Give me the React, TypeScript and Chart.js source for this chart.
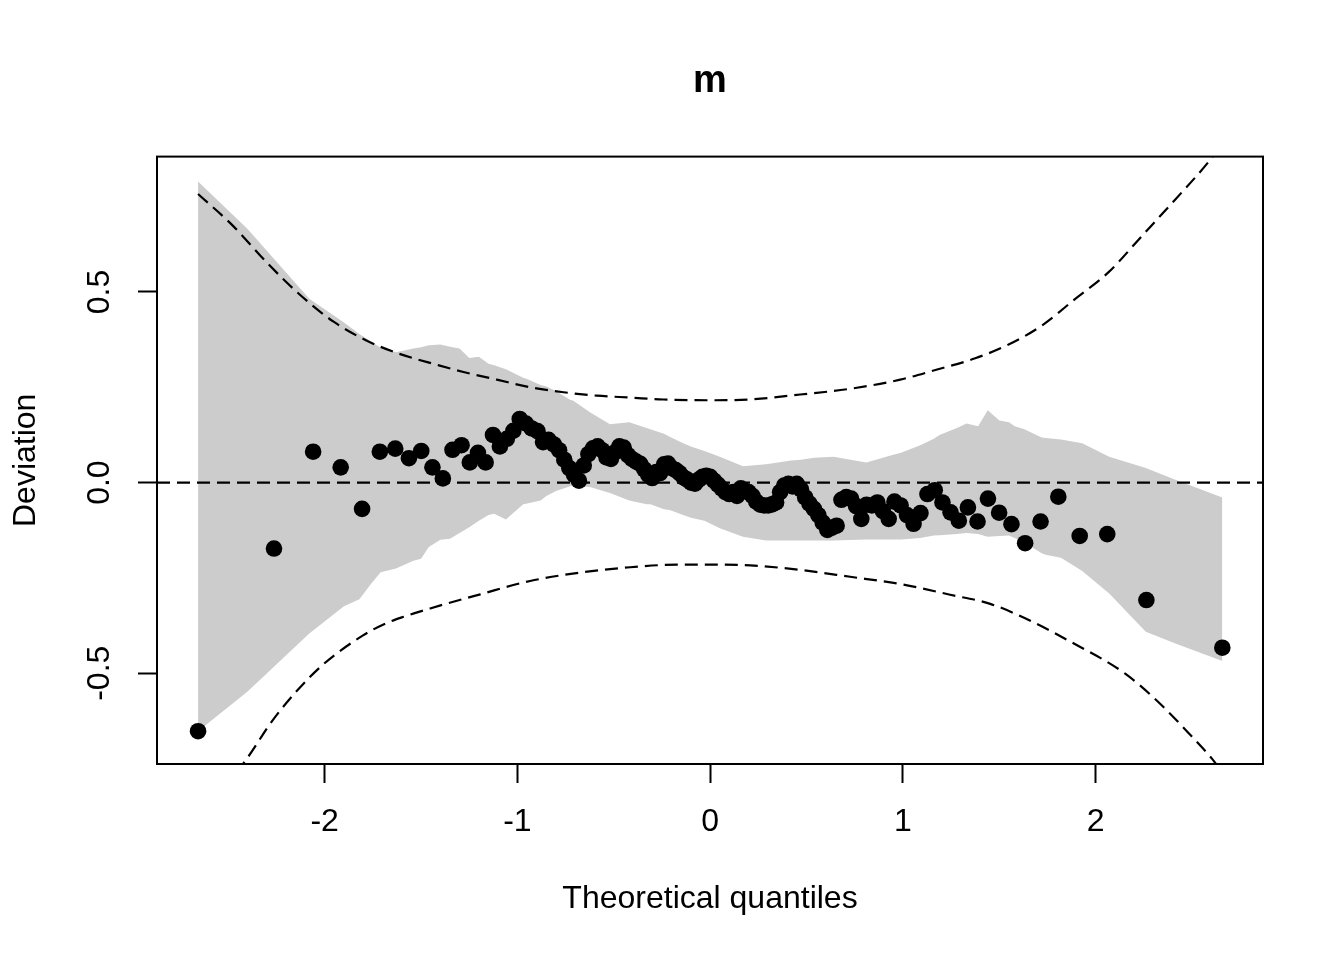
import { useEffect, useRef } from "react";
import { Chart, registerables } from "chart.js";

Chart.register(...registerables);

// theoretical quantiles of the residuals (x) and their deviation (y)
const QUANTILES = [
  -2.657, -2.263, -2.06, -1.917, -1.806, -1.714, -1.634, -1.563, -1.499, -1.441,
  -1.387, -1.337, -1.29, -1.247, -1.205, -1.165, -1.127, -1.091, -1.055, -1.021,
  -0.988, -0.956, -0.926, -0.896, -0.867, -0.839, -0.811, -0.784, -0.757, -0.731,
  -0.706, -0.681, -0.656, -0.632, -0.608, -0.584, -0.561, -0.538, -0.515, -0.493,
  -0.471, -0.449, -0.427, -0.406, -0.384, -0.363, -0.342, -0.321, -0.301, -0.28,
  -0.26, -0.239, -0.219, -0.199, -0.179, -0.159, -0.139, -0.119, -0.099, -0.079,
  -0.059, -0.04, -0.02, 0, 0.02, 0.04, 0.059, 0.079, 0.099, 0.119,
  0.139, 0.159, 0.179, 0.199, 0.219, 0.239, 0.26, 0.28, 0.301, 0.321,
  0.342, 0.363, 0.384, 0.406, 0.427, 0.449, 0.471, 0.493, 0.515, 0.538,
  0.561, 0.584, 0.608, 0.632, 0.656, 0.681, 0.706, 0.731, 0.757, 0.784,
  0.811, 0.839, 0.867, 0.896, 0.926, 0.956, 0.988, 1.021, 1.055, 1.091,
  1.127, 1.165, 1.205, 1.247, 1.29, 1.337, 1.387, 1.441, 1.499, 1.563,
  1.634, 1.714, 1.806, 1.917, 2.06, 2.263, 2.657,
];

const DEVIATION = [
  -0.652, -0.173, 0.081, 0.04, -0.069, 0.081, 0.089, 0.064, 0.083, 0.04,
  0.011, 0.086, 0.098, 0.053, 0.078, 0.053, 0.125, 0.095, 0.115, 0.136,
  0.167, 0.155, 0.142, 0.135, 0.106, 0.112, 0.1, 0.085, 0.06, 0.038,
  0.02, 0.005, 0.045, 0.075, 0.09, 0.095, 0.085, 0.066, 0.062, 0.08,
  0.095, 0.092, 0.072, 0.062, 0.055, 0.049, 0.035, 0.02, 0.012, 0.028,
  0.025, 0.048, 0.05, 0.038, 0.033, 0.025, 0.014, 0.008, 0.0, -0.003,
  0.008, 0.015, 0.018, 0.015, 0.005, -0.005, -0.015, -0.025, -0.03, -0.025,
  -0.035, -0.015, -0.022, -0.025, -0.035, -0.05, -0.058, -0.06, -0.06, -0.057,
  -0.052, -0.025, -0.008, -0.003, -0.01, -0.003, -0.018, -0.039, -0.055, -0.069,
  -0.085, -0.105, -0.124, -0.118, -0.113, -0.045, -0.038, -0.042, -0.062, -0.095,
  -0.058, -0.06, -0.052, -0.075, -0.095, -0.05, -0.06, -0.085, -0.108, -0.08,
  -0.03, -0.02, -0.052, -0.078, -0.1, -0.065, -0.102, -0.042, -0.079, -0.109,
  -0.159, -0.102, -0.037, -0.14, -0.135, -0.308, -0.433,
];

// grey reference envelope
const BAND_X = [
  -2.657, -2.4, -2.08, -1.9, -1.82, -1.76, -1.71, -1.63, -1.54, -1.5,
  -1.46, -1.4, -1.35, -1.3, -1.25, -1.2, -1.15, -1.12, -1.06, -0.97,
  -0.95, -0.88, -0.85, -0.8, -0.73, -0.71, -0.62, -0.52, -0.42, -0.33,
  -0.31, -0.24, -0.21, -0.14, -0.1, -0.03, 0.05, 0.17, 0.29, 0.42,
  0.47, 0.54, 0.64, 0.81, 0.95, 0.99, 1.09, 1.16, 1.19, 1.28,
  1.33, 1.39, 1.44, 1.5, 1.55, 1.58, 1.63, 1.72, 1.74, 1.82,
  1.93, 2.07, 2.26, 2.41, 2.657,
];
const BAND_UPPER = [
  0.79, 0.665, 0.482, 0.42, 0.39, 0.37, 0.354, 0.342, 0.352, 0.355,
  0.36, 0.362, 0.356, 0.352, 0.327, 0.33, 0.312, 0.308, 0.297, 0.275,
  0.272, 0.256, 0.252, 0.24, 0.218, 0.215, 0.183, 0.153, 0.158, 0.143,
  0.14, 0.128, 0.12, 0.103, 0.095, 0.083, 0.068, 0.043, 0.048, 0.058,
  0.06, 0.065, 0.068, 0.053, 0.073, 0.078, 0.098, 0.115, 0.125, 0.143,
  0.155, 0.148, 0.19, 0.163, 0.158, 0.148, 0.14, 0.118, 0.117, 0.113,
  0.103, 0.068, 0.038, 0.008, -0.039,
];
const BAND_LOWER = [
  -0.652, -0.548, -0.396, -0.324, -0.306, -0.266, -0.235, -0.225, -0.205, -0.2,
  -0.169, -0.15, -0.147, -0.132, -0.117, -0.1, -0.085, -0.082, -0.097, -0.057,
  -0.055, -0.047, -0.035, -0.022, -0.01, -0.007, -0.012, -0.027, -0.047, -0.057,
  -0.057, -0.07, -0.072, -0.085, -0.092, -0.1, -0.12, -0.142, -0.152, -0.152,
  -0.152, -0.152, -0.152, -0.149, -0.149, -0.149, -0.145, -0.139, -0.138, -0.135,
  -0.132, -0.135, -0.142, -0.14, -0.139, -0.145, -0.157, -0.185, -0.189, -0.197,
  -0.232, -0.291, -0.391, -0.421, -0.468,
];

// dashed 95% limits
const UPPER_X = [
  -2.657, -2.473, -2.3, -2.127, -1.954, -1.781, -1.608, -1.418, -1.28, -1.107,
  -0.934, -0.761, -0.588, -0.415, -0.243, 0.016, 0.208, 0.467, 0.726, 0.986,
  1.159, 1.375, 1.548, 1.721, 1.894, 2.067, 2.24, 2.412, 2.585, 2.657,
];
const UPPER_Y = [
  0.757, 0.672, 0.577, 0.492, 0.422, 0.372, 0.337, 0.309, 0.29, 0.27,
  0.25, 0.237, 0.228, 0.223, 0.218, 0.216, 0.218, 0.231, 0.246, 0.27,
  0.294, 0.326, 0.362, 0.412, 0.482, 0.552, 0.647, 0.742, 0.841, 0.89,
];
const LOWER_X = [
  -2.657, -2.404, -2.274, -2.144, -2.006, -1.799, -1.695, -1.591, -1.453, -1.193,
  -0.934, -0.674, -0.415, -0.156, 0.052, 0.208, 0.467, 0.726, 0.986, 1.245,
  1.453, 1.634, 1.894, 2.153, 2.326, 2.499, 2.603, 2.657,
];
const LOWER_Y = [
  -0.88, -0.724, -0.626, -0.546, -0.476, -0.4, -0.372, -0.352, -0.33, -0.293,
  -0.258, -0.236, -0.222, -0.215, -0.215, -0.217, -0.229, -0.247, -0.266, -0.294,
  -0.318, -0.356, -0.424, -0.501, -0.576, -0.666, -0.724, -0.76,
];

const X_MIN = -2.87;
const X_MAX = 2.868;
const Y_MIN = -0.738;
const Y_MAX = 0.855;
const X_TICKS = [-2, -1, 0, 1, 2];
const Y_TICKS = [-0.5, 0, 0.5];

const FONT = "'Liberation Sans', Arial, Helvetica, sans-serif";

const frame = {
  id: "frame",
  afterDraw(chart: Chart) {
    const { ctx, chartArea: a } = chart;
    ctx.save();
    ctx.strokeStyle = "#000";
    ctx.lineWidth = 2;
    ctx.strokeRect(a.left, a.top, a.right - a.left, a.bottom - a.top);
    ctx.restore();
  },
};

export default function App() {
  const canvasRef = useRef<HTMLCanvasElement>(null);

  useEffect(() => {
    if (!canvasRef.current) return;
    Chart.defaults.font.family = FONT;
    Chart.defaults.color = "#000";

    const xy = (xs: number[], ys: number[]) => xs.map((x, i) => ({ x, y: ys[i] }));
    const dashed = {
      type: "line" as const,
      borderColor: "#000",
      borderWidth: 2.2,
      borderDash: [13, 7],
      pointRadius: 0,
      cubicInterpolationMode: "monotone" as const,
      fill: false,
      order: 1,
    };

    const chart = new Chart(canvasRef.current, {
      type: "scatter",
      data: {
        datasets: [
          {
            type: "scatter",
            data: xy(QUANTILES, DEVIATION),
            backgroundColor: "#000",
            borderWidth: 0,
            pointRadius: 8.3,
            order: 0,
          },
          { ...dashed, data: xy(UPPER_X, UPPER_Y) },
          { ...dashed, data: xy(LOWER_X, LOWER_Y) },
          { ...dashed, data: [{ x: X_MIN, y: 0 }, { x: X_MAX, y: 0 }] },
          {
            type: "line",
            data: xy(BAND_X, BAND_UPPER),
            borderWidth: 0,
            pointRadius: 0,
            backgroundColor: "#cccccc",
            fill: "+1",
            order: 2,
          },
          {
            type: "line",
            data: xy(BAND_X, BAND_LOWER),
            borderWidth: 0,
            pointRadius: 0,
            fill: false,
            order: 2,
          },
        ],
      },
      options: {
        responsive: false,
        animation: false,
        devicePixelRatio: 1,
        layout: { padding: { left: 0, right: 81, top: 0, bottom: 0 } },
        plugins: {
          legend: { display: false },
          tooltip: { enabled: false },
          title: {
            display: true,
            fullSize: false,
            text: "m",
            color: "#000",
            font: { size: 38, weight: "bold", family: FONT },
            padding: { top: 59, bottom: 52 },
          },
        },
        scales: {
          x: {
            type: "linear",
            min: X_MIN,
            max: X_MAX,
            afterFit: (s) => {
              s.height = 196;
            },
            afterBuildTicks: (s) => {
              s.ticks = X_TICKS.map((value) => ({ value }));
            },
            border: { display: false },
            grid: {
              drawOnChartArea: false,
              drawTicks: true,
              tickLength: 19,
              tickWidth: 2,
              tickColor: "#000",
            },
            ticks: {
              color: "#000",
              font: { size: 32, family: FONT },
              padding: 20,
              maxRotation: 0,
              callback: (v) => String(v),
            },
            title: {
              display: true,
              text: "Theoretical quantiles",
              color: "#000",
              font: { size: 32, family: FONT },
              padding: { top: 0, bottom: 42 },
            },
          },
          y: {
            type: "linear",
            min: Y_MIN,
            max: Y_MAX,
            afterFit: (s) => {
              s.width = 157;
            },
            afterBuildTicks: (s) => {
              s.ticks = Y_TICKS.map((value) => ({ value }));
            },
            border: { display: false },
            grid: {
              drawOnChartArea: false,
              drawTicks: true,
              tickLength: 19,
              tickWidth: 2,
              tickColor: "#000",
            },
            ticks: {
              color: "#000",
              font: { size: 32, family: FONT },
              padding: 10,
              minRotation: 90,
              maxRotation: 90,
              crossAlign: "center",
              callback: (v) => Number(v).toFixed(1),
            },
            title: {
              display: true,
              text: "Deviation",
              color: "#000",
              font: { size: 32, family: FONT },
              padding: { top: 7, bottom: 0 },
            },
          },
        },
      },
      plugins: [frame],
    });

    return () => chart.destroy();
  }, []);

  return (
    <div style={{ position: "absolute", left: 0, top: 0, width: 1344, height: 960, background: "#fff" }}>
      <canvas ref={canvasRef} width={1344} height={960} />
    </div>
  );
}
